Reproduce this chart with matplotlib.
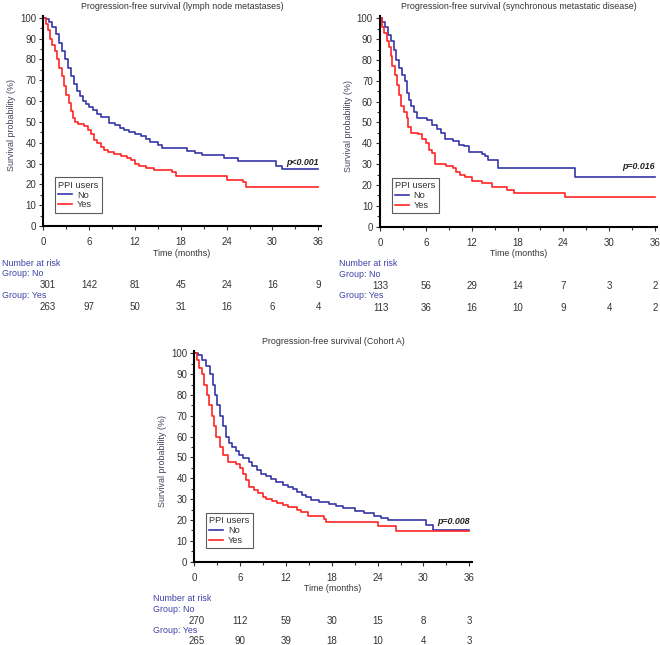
import matplotlib
matplotlib.use("Agg")
import matplotlib.pyplot as plt
from matplotlib.ticker import MultipleLocator
from matplotlib.transforms import blended_transform_factory

plt.rcParams['font.family'] = ['Liberation Sans', 'DejaVu Sans']

BLUE = "#3636a8"
RED = "#ff2424"
TEXT = "#333333"
TABLE = "#4040a8"
WORDS = 6.4   # size of the word labels
DIGITS = 7    # size of the numbers

# lymph node metastases
ln_no_t = [0, 0.4, 0.8, 1.2, 1.6, 2.0, 2.4, 2.8, 3.2, 3.6, 4.0, 4.4, 4.8, 5.2, 5.6, 6.0, 6.5, 7.0, 7.5,
           8.6, 9.4, 10.0, 10.5, 11.2, 12.0, 12.8, 13.4, 14.0, 15.0, 15.5, 18.8, 19.8, 20.8, 23.6, 25.5,
           30.4, 31.3, 36]
ln_no_s = [100, 99.5, 98, 95.5, 92, 88, 84, 80, 76, 72, 68, 65, 62.5, 60, 58.5, 57, 55.5, 54, 52.5,
           49.5, 48.5, 47, 46, 45, 44, 43, 42, 40.5, 39, 37.5, 36, 35, 34, 32.5, 31,
           29, 27.3, 27.3]
ln_yes_t = [0, 0.3, 0.6, 0.9, 1.2, 1.5, 1.8, 2.1, 2.4, 2.7, 3.0, 3.3, 3.6, 3.9, 4.2, 4.5, 5.3, 5.8, 6.2,
            6.6, 7.0, 7.5, 8.0, 8.5, 9.3, 10.2, 11.0, 11.5, 12.0, 12.5, 13.5, 14.5, 16.8, 17.4, 24.0,
            26.2, 26.5, 36]
ln_yes_s = [100, 97, 94, 90, 87, 84, 80, 76, 72, 67, 63, 59, 55, 52, 50, 49, 48, 46, 44,
            41.5, 40, 38, 36.5, 35.5, 34.5, 33.5, 32.5, 31.5, 30, 29, 28, 27, 26, 24, 22,
            21, 18.5, 18.5]
ln_risk_no = [301, 142, 81, 45, 24, 16, 9]
ln_risk_yes = [263, 97, 50, 31, 16, 6, 4]

# synchronous metastatic disease
sy_no_t = [0, 0.3, 0.7, 1.1, 1.5, 1.8, 2.1, 2.5, 2.9, 3.3, 3.5, 3.8, 4.1, 4.4, 4.9, 6.1, 6.8, 7.4, 8.0,
           8.5, 9.6, 10.3, 11.0, 11.6, 13.3, 13.8, 14.1, 15.5, 25.5, 36]
sy_no_s = [100, 98, 96, 92, 89, 85, 80, 76, 73, 70, 64, 61, 58, 55, 52, 51, 49, 47, 45,
           42, 41, 39, 38.5, 36, 35, 34, 32, 28, 24, 24]
sy_yes_t = [0, 0.2, 0.5, 0.9, 1.2, 1.4, 1.6, 2.0, 2.2, 2.5, 2.8, 3.1, 3.5, 3.7, 4.0, 5.0, 5.5, 6.0, 6.4,
            6.8, 7.2, 8.7, 9.6, 10.0, 10.5, 11.1, 12.0, 13.3, 14.6, 16.6, 17.5, 24.2, 36]
sy_yes_s = [100, 96, 93, 89, 86, 82, 77, 73, 68, 63, 58, 55, 52, 48, 45, 44.5, 42, 40, 37,
            35.5, 30, 29, 28, 26, 25, 24, 22, 21, 19, 17.5, 16, 14, 14]
sy_risk_no = [133, 56, 29, 14, 7, 3, 2]
sy_risk_yes = [113, 36, 16, 10, 9, 4, 2]

# cohort A
co_no_t = [0, 0.5, 1.0, 1.5, 2.0, 2.4, 2.7, 3.0, 3.35, 3.8, 4.2, 4.6, 4.9, 5.4, 5.8, 6.4, 7.1, 7.6, 8.2,
           8.7, 9.4, 10.0, 10.7, 11.6, 12.3, 12.9, 13.4, 14.1, 14.6, 15.3, 16.3, 17.6, 18.6, 19.5, 21.0,
           22.2, 23.5, 24.5, 25.4, 30.3, 31.2, 36]
co_no_s = [100, 99, 97, 94, 90, 85, 80, 75, 70, 65, 60, 57, 55, 53, 51, 49.5, 48, 46, 44,
           42, 41, 39.5, 38, 37, 36, 35, 33.5, 32, 31, 29.5, 28.5, 27.5, 26.5, 25.5, 24.5,
           23.5, 22, 21, 20, 17.5, 15.2, 15.2]
co_yes_t = [0, 0.3, 0.6, 0.95, 1.3, 1.6, 1.95, 2.26, 2.6, 2.9, 3.4, 3.8, 4.4, 5.5, 6.0, 6.4, 6.8, 7.2,
            7.8, 8.4, 9.0, 9.4, 10.2, 10.8, 11.6, 12.3, 13.4, 14.0, 14.9, 17.0, 17.3, 24.0, 26.4, 36]
co_yes_s = [100, 97, 93, 90, 85, 80, 75, 70, 65, 60, 55, 51, 48, 47, 45, 42, 39, 36,
            34.5, 33, 31, 30, 29, 28, 27, 26, 25, 24, 22, 20.5, 19, 17, 14.5, 14.5]
co_risk_no = [270, 112, 59, 30, 15, 8, 3]
co_risk_yes = [265, 90, 39, 18, 10, 4, 3]

risk_times = [0, 6, 12, 18, 24, 30, 36]

W, H = 660, 645
fig = plt.figure(figsize=(W / 100, H / 100), dpi=100)


def add_panel(left_px, top_px, title, no_t, no_s, yes_t, yes_s, pval, py, risk_no, risk_yes,
              first_shift=0.3, rows=(37.3, 47.7, 58.3, 69.0, 80.0)):
    w_px = 275 * 36.3 / 36
    h_px = 208.3 * 101 / 100
    bottom_px = top_px + 208.3
    ax = fig.add_axes([left_px / W, (H - bottom_px) / H, w_px / W, h_px / H])
    ax.step(no_t, no_s, where='post', color=BLUE, lw=1.2)
    ax.step(yes_t, yes_s, where='post', color=RED, lw=1.2)
    ax.set_xlim(0, 36.3)
    ax.set_ylim(0, 101)
    ax.spines['top'].set_visible(False)
    ax.spines['right'].set_visible(False)
    for s in ('left', 'bottom'):
        ax.spines[s].set_linewidth(1.5)
        ax.spines[s].set_color('black')
    ax.xaxis.set_major_locator(MultipleLocator(6))
    ax.xaxis.set_minor_locator(MultipleLocator(3))
    ax.yaxis.set_major_locator(MultipleLocator(10))
    ax.yaxis.set_minor_locator(MultipleLocator(5))
    ax.tick_params(which='major', length=3, width=0.8, color='#333333', labelsize=DIGITS,
                   labelcolor=TEXT)
    ax.tick_params(axis='x', which='major', pad=5)
    ax.tick_params(axis='y', which='major', pad=2.2)
    ax.tick_params(which='minor', length=2, width=0.8, color='#333333')
    ax.set_title(title, fontsize=WORDS, color=TEXT, pad=5)
    ax.set_xlabel('Time (months)', fontsize=WORDS, color=TEXT, labelpad=1)
    ax.set_ylabel('Survival probability (%)', fontsize=WORDS, color='#4a3c5c')
    ax.yaxis.set_label_coords(-27 / 275, 0.48)
    ax.text(36, py, pval, ha='right', va='center', fontsize=WORDS, fontweight='bold',
            style='italic', color='#222222')
    leg = ax.legend(['No', 'Yes'], title='PPI users', loc='lower left',
                    bbox_to_anchor=(0.042, 0.063), borderaxespad=0, fancybox=False,
                    fontsize=WORDS + 0.3, title_fontsize=WORDS + 0.3, handlelength=1.5,
                    handletextpad=0.5, labelspacing=0.1, borderpad=0.35, alignment='left')
    leg.get_frame().set_edgecolor('#333333')
    leg.get_frame().set_linewidth(0.8)
    for txt in leg.get_texts():
        txt.set_color(TEXT)
    leg.get_title().set_color(TEXT)

    # number at risk table
    tr = blended_transform_factory(ax.transData, ax.transAxes)
    hx = -41 / 275
    yf = [-r / h_px for r in rows]
    ax.text(hx, yf[0], 'Number at risk', transform=ax.transAxes, fontsize=WORDS, color=TABLE,
            va='center', ha='left')
    ax.text(hx, yf[1], 'Group: No', transform=ax.transAxes, fontsize=WORDS, color=TABLE,
            va='center', ha='left')
    ax.text(hx, yf[3], 'Group: Yes', transform=ax.transAxes, fontsize=WORDS, color=TABLE,
            va='center', ha='left')
    for i, (t, a, b) in enumerate(zip(risk_times, risk_no, risk_yes)):
        xx = t + (first_shift if i == 0 else 0)
        ax.text(xx, yf[2], str(a), transform=tr, fontsize=DIGITS, color=TEXT, ha='center',
                va='center_baseline')
        ax.text(xx, yf[4], str(b), transform=tr, fontsize=DIGITS, color=TEXT, ha='center',
                va='center_baseline')
    return ax


add_panel(43.3, 17.7, 'Progression-free survival (lymph node metastases)',
          ln_no_t, ln_no_s, ln_yes_t, ln_yes_s, 'p<0.001', 30.6, ln_risk_no, ln_risk_yes,
          first_shift=0.6)
add_panel(380, 18.3, 'Progression-free survival (synchronous metastatic disease)',
          sy_no_t, sy_no_s, sy_yes_t, sy_yes_s, 'p=0.016', 28.8, sy_risk_no, sy_risk_yes,
          first_shift=0.1)
add_panel(194.3, 353.3, 'Progression-free survival (Cohort A)',
          co_no_t, co_no_s, co_yes_t, co_yes_s, 'p=0.008', 19.4, co_risk_no, co_risk_yes,
          first_shift=0.3, rows=(37.0, 47.5, 58.0, 68.5, 78.8))

fig.savefig('out.png', dpi=100, facecolor='white')
